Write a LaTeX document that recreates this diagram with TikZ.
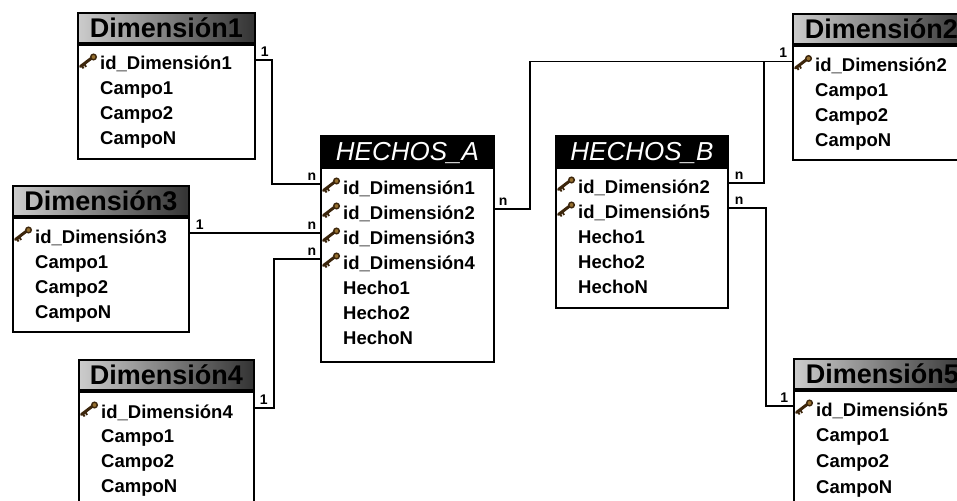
\documentclass[tikz,border=0pt]{standalone}
\usepackage{fontspec}
\setmainfont{Liberation Sans}
\usetikzlibrary{positioning}

\definecolor{keybrown}{RGB}{60,38,12}
\definecolor{keygold}{RGB}{150,112,48}

\tikzset{
  tbl/.style={draw, line width=1.9pt, anchor=north west, inner sep=0pt},
  dimhead/.style={tbl, minimum height=30pt, left color=black!20, right color=black!80,
    font=\fontsize{27}{27}\selectfont\bfseries, text height=19pt, text depth=0pt},
  facthead/.style={tbl, minimum height=30pt, fill=black, text=white,
    font=\fontsize{26}{26}\selectfont\itshape, text height=18.5pt, text depth=0pt},
  tbody/.style={tbl, fill=white},
  field/.style={anchor=base west, inner sep=0pt, text height=20pt, text depth=0pt,
    font=\fontsize{18.5}{18.5}\selectfont\bfseries},
  card/.style={inner sep=0pt, font=\fontsize{14}{14}\selectfont\bfseries},
  link/.style={line width=1.7pt},
  keyicon/.pic={
    \draw[keybrown, line width=3pt, line cap=round] (3.5,6.5) -- (14,-1.5);
    \draw[keybrown, line width=1.8pt] (5,5.5) -- (6.5,8.5) (7.5,4) -- (9,7);
    \draw[keybrown, fill=keygold, line width=1.4pt] (16.5,-3) circle (2.8pt);
  }
}

\begin{document}
\begin{tikzpicture}[x=1pt, y=-1pt]
\useasboundingbox (0,0) rectangle (957,500);
\clip (0,0) rectangle (957,500);

% tablas de dimensiones
\node[dimhead, minimum width=177pt] (d1h) at (77,12) {Dimensión1};
\node[tbody, minimum width=177pt, minimum height=114pt] (d1b) at (d1h.south west) {};
\foreach \f [count=\i] in {id\_Dimensión1, Campo1, Campo2, CampoN}
  \node[field] (d1-\i) at (100, 70+24.8*\i-24.8) {\f};

\node[dimhead, minimum width=177pt] (d2h) at (792,13) {Dimensión2};
\node[tbody, minimum width=177pt, minimum height=114pt] (d2b) at (d2h.south west) {};
\foreach \f [count=\i] in {id\_Dimensión2, Campo1, Campo2, CampoN}
  \node[field] (d2-\i) at (815, 71.5+25*\i-25) {\f};

\node[dimhead, minimum width=176pt] (d3h) at (12,185) {Dimensión3};
\node[tbody, minimum width=176pt, minimum height=114pt] (d3b) at (d3h.south west) {};
\foreach \f [count=\i] in {id\_Dimensión3, Campo1, Campo2, CampoN}
  \node[field] (d3-\i) at (35, 243+25*\i-25) {\f};

\node[dimhead, minimum width=175pt] (d4h) at (78,359) {Dimensión4};
\node[tbody, minimum width=175pt, minimum height=114pt] (d4b) at (d4h.south west) {};
\foreach \f [count=\i] in {id\_Dimensión4, Campo1, Campo2, CampoN}
  \node[field] (d4-\i) at (101, 418+24.7*\i-24.7) {\f};

\node[dimhead, minimum width=177pt] (d5h) at (793,358) {Dimensión5};
\node[tbody, minimum width=177pt, minimum height=114pt] (d5b) at (d5h.south west) {};
\foreach \f [count=\i] in {id\_Dimensión5, Campo1, Campo2, CampoN}
  \node[field] (d5-\i) at (816, 416+25.7*\i-25.7) {\f};

% tablas de hechos
\node[facthead, minimum width=173pt] (ah) at (320,135) {HECHOS\_A};
\node[tbody, minimum width=173pt, minimum height=194pt] (ab) at (ah.south west) {};
\foreach \f [count=\i] in {id\_Dimensión1, id\_Dimensión2, id\_Dimensión3, id\_Dimensión4, Hecho1, Hecho2, HechoN}
  \node[field] (a-\i) at (343, 194+25*\i-25) {\f};

\node[facthead, minimum width=172pt] (bh) at (555,135) {HECHOS\_B};
\node[tbody, minimum width=172pt, minimum height=140pt] (bb) at (bh.south west) {};
\foreach \f [count=\i] in {id\_Dimensión2, id\_Dimensión5, Hecho1, Hecho2, HechoN}
  \node[field] (b-\i) at (578, 193+25*\i-25) {\f};

% llaves
\foreach \t in {d1, d2, d3, d4, d5}
  \pic at (\t b.west |- \t-1) {keyicon};
\foreach \i in {1,...,4}
  \pic at (ab.west |- a-\i) {keyicon};
\foreach \i in {1,2}
  \pic at (bb.west |- b-\i) {keyicon};

% relaciones
\draw[link] (d1b.east |- d1-1) node[card, above right=3pt and 4pt] {1}
  -- ++(16,0) |- (ab.west |- a-1) node[card, above left=3pt and 3pt] {n};
\draw[link] (d3b.east |- d3-1) node[card, above right=3pt and 5pt] {1}
  -- (ab.west |- d3-1) node[card, above left=3pt and 3pt] {n};
\draw[link] (d4b.east |- d4-1) node[card, above right=3pt and 4pt] {1}
  -- ++(19,0) |- (ab.west |- a-4) node[card, above left=3pt and 3pt] {n};
\draw[link] (ab.east |- a-2) node[card, above right=3pt and 3pt] {n}
  -- ++(35,0) |- (d2b.west |- d2-1) node[card, above left=3pt and 4pt] {1};
\draw[link] (bb.east |- b-1) node[card, above right=3pt and 5pt] {n}
  -- ++(35,0) |- (d2b.west |- d2-1);
\draw[link] (bb.east |- b-2) node[card, above right=3pt and 5pt] {n}
  -- ++(37,0) |- (d5b.west |- d5-1) node[card, above left=3pt and 4pt] {1};
\end{tikzpicture}
\end{document}
